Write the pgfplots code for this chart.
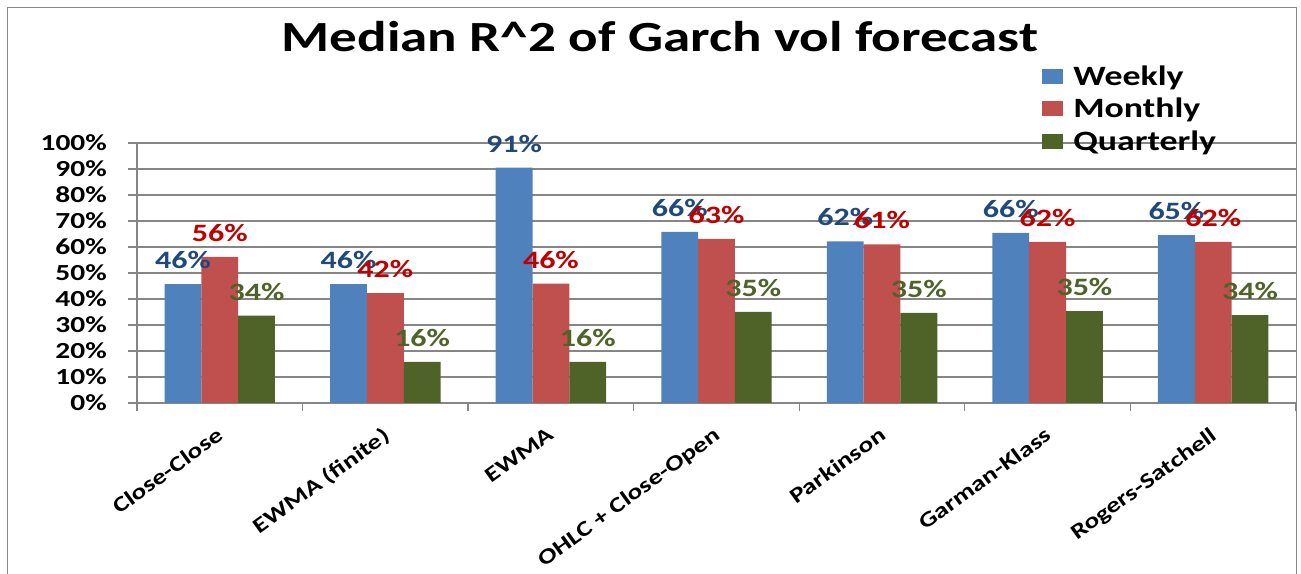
\documentclass[border=0pt]{standalone}
\usepackage{fontspec}
\setmainfont{Carlito}[FakeStretch=1.28]
\usepackage{pgfplots}
\usepackage{pgfplotstable}
\pgfplotsset{compat=1.18}
\definecolor{cblue}{HTML}{4F81BD}
\definecolor{cred}{HTML}{C0504D}
\definecolor{cgreen}{HTML}{4F6228}
\definecolor{lblue}{HTML}{1F497D}
\definecolor{lred}{HTML}{C00000}
\definecolor{lgreen}{HTML}{4F6228}
\definecolor{gridgray}{HTML}{868686}
\pgfplotstableread{
x w m q wl ml ql
0 45.7 56.2 33.6 46 56 34
1 45.7 42.3 15.8 46 42 16
2 90.5 45.9 15.8 91 46 16
3 65.8 63.1 35.0 66 63 35
4 62.2 61.0 34.7 62 61 35
5 65.4 62.0 35.3 66 62 35
6 64.6 62.0 33.8 65 62 34
}\datatable
\begin{document}
\begin{tikzpicture}[x=1bp,y=1bp]
\draw[gridgray, line width=1.5bp] (7.5,-10) rectangle (1296.5,566.5);
\node[anchor=base, font=\fontsize{43bp}{46bp}\selectfont\bfseries] at (660,522) {Median R\textasciicircum 2 of Garch vol forecast};
\begin{axis}[
  at={(137bp,171bp)}, anchor=south west,
  scale only axis, width=1159bp, height=260bp,
  xmin=-0.5, xmax=6.5, ymin=0, ymax=100,
  axis x line*=bottom, axis y line*=left,
  axis line style={draw=gridgray, line width=1.3bp},
  ymajorgrids, grid style={draw=gridgray, line width=1.3bp},
  tick align=outside,
  major tick length=9bp, minor tick length=8bp,
  tick style={draw=gridgray, line width=1.3bp},
  xtick={0,...,6},
  major x tick style={draw=none},
  minor xtick={-0.5,0.5,...,6.5},
  xticklabels={Close-Close,EWMA (finite),EWMA,OHLC + Close-Open,Parkinson,Garman-Klass,Rogers-Satchell},
  xticklabel style={rotate=36, anchor=north east, inner sep=0pt, yshift=-9bp, xshift=-11bp, font=\fontsize{21.5bp}{25bp}\selectfont\bfseries},
  ytick={0,10,...,100},
  yticklabels={0\%,10\%,20\%,30\%,40\%,50\%,60\%,70\%,80\%,90\%,100\%},
  yticklabel style={anchor=east, inner sep=0pt, xshift=-21bp, font=\fontsize{23bp}{27bp}\selectfont\bfseries},
  bar width=36.8bp,
  legend style={at={(0.781,1.293)}, anchor=north west, draw=none, fill=none,
    font=\fontsize{28bp}{30bp}\selectfont\bfseries, inner sep=0pt,
    nodes={inner sep=0pt, text height=18bp, text depth=6bp},
    row sep=8.5bp, column sep=10bp},
  legend cell align=left,
  legend image code/.code={\fill[#1] (0bp,-4.5bp) rectangle (21bp,10.5bp);},
  every node near coord/.append style={anchor=base, inner sep=0pt, yshift=15.5bp, font=\fontsize{25bp}{27bp}\selectfont\bfseries},
]
\addplot[ybar, bar shift=-36.8bp, fill=cblue, draw=none] table[x=x,y=w] {\datatable};
\addlegendentry{Weekly}
\addplot[ybar, bar shift=0bp, fill=cred, draw=none] table[x=x,y=m] {\datatable};
\addlegendentry{Monthly}
\addplot[ybar, bar shift=36.8bp, fill=cgreen, draw=none] table[x=x,y=q] {\datatable};
\addlegendentry{Quarterly}
\addplot[draw=none, mark=none, forget plot, point meta=explicit symbolic,
  nodes near coords={\pgfplotspointmeta\%}, every node near coord/.append style={text=lblue, xshift=-36.8bp}]
  table[x=x,y=w,meta=wl] {\datatable};
\addplot[draw=none, mark=none, forget plot, point meta=explicit symbolic,
  nodes near coords={\pgfplotspointmeta\%}, every node near coord/.append style={text=lred}]
  table[x=x,y=m,meta=ml] {\datatable};
\addplot[draw=none, mark=none, forget plot, point meta=explicit symbolic,
  nodes near coords={\pgfplotspointmeta\%}, every node near coord/.append style={text=lgreen, xshift=36.8bp}]
  table[x=x,y=q,meta=ql] {\datatable};
\end{axis}
\pgfresetboundingbox
\useasboundingbox (0,0) rectangle (1301,574);
\end{tikzpicture}
\end{document}
